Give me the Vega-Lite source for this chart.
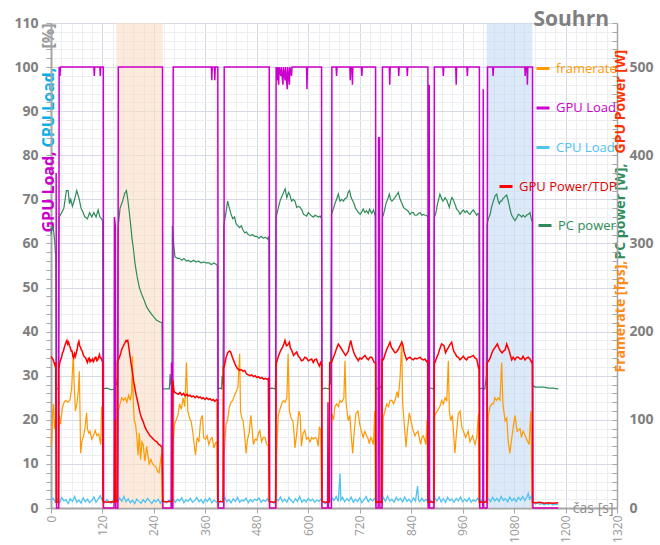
{
"$schema": "https://vega.github.io/schema/vega-lite/v6.json",
"width": 566, "height": 485,
"autosize": {"type": "none"},
"padding": {"left": 51, "top": 23, "right": 43, "bottom": 37},
"background": "white",
"title": {"text": "Souhrn", "anchor": "end", "frame": "group", "orient": "top", "offset": -14, "dx": -8, "font": "Open Sans", "fontSize": 21, "fontWeight": "bold", "color": "#7f7f7f"},
"config": {"view": {"stroke": null}, "axis": {"labelFont": "Open Sans", "titleFont": "Open Sans"}, "legend": {"labelFont": "Open Sans"}},
"datasets": {
"fps": [{"t":0,"v":72},{"t":2,"v":77},{"t":4,"v":110},{"t":6,"v":118},{"t":8,"v":90},{"t":10,"v":100},{"t":12,"v":85},{"t":13,"v":0},{"t":18,"v":0},
{"t":19,"v":105},{"t":22,"v":95},{"t":27,"v":115},{"t":31,"v":120},{"t":35,"v":122},{"t":39,"v":120},{"t":44,"v":122},{"t":48,"v":135},{"t":50,"v":155},{"t":52,"v":175},{"t":54,"v":140},{"t":57,"v":110},{"t":61,"v":120},{"t":64,"v":135},{"t":66,"v":155},{"t":68,"v":100},{"t":69,"v":62},{"t":72,"v":75},{"t":76,"v":82},{"t":79,"v":90},{"t":83,"v":108},{"t":85,"v":90},{"t":88,"v":85},{"t":91,"v":87},{"t":95,"v":78},{"t":99,"v":82},{"t":103,"v":88},{"t":107,"v":82},{"t":111,"v":84},{"t":116,"v":72},{"t":118,"v":115},{"t":120,"v":105},{"t":121,"v":0},
{"t":154,"v":0},{"t":156,"v":60},
{"t":157,"v":110},{"t":161,"v":118},{"t":165,"v":125},{"t":169,"v":122},{"t":173,"v":125},{"t":177,"v":120},{"t":181,"v":128},{"t":185,"v":122},{"t":188,"v":130},{"t":190,"v":172},{"t":192,"v":120},{"t":194,"v":100},{"t":197,"v":95},{"t":200,"v":82},{"t":203,"v":60},{"t":206,"v":85},{"t":209,"v":55},{"t":212,"v":75},{"t":215,"v":72},{"t":219,"v":53},{"t":223,"v":70},{"t":226,"v":60},{"t":229,"v":50},{"t":233,"v":55},{"t":237,"v":50},{"t":241,"v":48},{"t":245,"v":46},{"t":249,"v":41},{"t":252,"v":40},{"t":255,"v":52},{"t":258,"v":62},{"t":259.5,"v":0},
{"t":284,"v":0},
{"t":285,"v":75},{"t":288,"v":95},{"t":292,"v":100},{"t":296,"v":105},{"t":300,"v":118},{"t":304,"v":112},{"t":308,"v":125},{"t":312,"v":115},{"t":316,"v":165},{"t":319,"v":110},{"t":323,"v":102},{"t":327,"v":98},{"t":331,"v":85},{"t":334,"v":72},{"t":337,"v":60},{"t":341,"v":80},{"t":345,"v":75},{"t":349,"v":100},{"t":353,"v":105},{"t":356,"v":80},{"t":360,"v":78},{"t":364,"v":82},{"t":368,"v":72},{"t":372,"v":78},{"t":376,"v":80},{"t":380,"v":68},{"t":384,"v":74},{"t":387,"v":75},{"t":388.5,"v":0},
{"t":403,"v":0},
{"t":404,"v":60},{"t":408,"v":95},{"t":412,"v":100},{"t":416,"v":115},{"t":420,"v":120},{"t":424,"v":122},{"t":428,"v":128},{"t":432,"v":132},{"t":436,"v":137},{"t":440,"v":175},{"t":442,"v":110},{"t":445,"v":102},{"t":448,"v":99},{"t":451,"v":85},{"t":455,"v":62},{"t":458,"v":77},{"t":462,"v":85},{"t":466,"v":105},{"t":469,"v":90},{"t":472,"v":72},{"t":476,"v":78},{"t":480,"v":77},{"t":484,"v":85},{"t":487,"v":88},{"t":491,"v":75},{"t":495,"v":80},{"t":499,"v":80},{"t":503,"v":72},{"t":507,"v":70},{"t":509,"v":0},
{"t":525,"v":0},
{"t":526,"v":60},{"t":530,"v":105},{"t":534,"v":112},{"t":538,"v":118},{"t":542,"v":122},{"t":546,"v":120},{"t":550,"v":125},{"t":553,"v":175},{"t":556,"v":110},{"t":560,"v":102},{"t":564,"v":99},{"t":567,"v":84},{"t":569,"v":68},{"t":572,"v":80},{"t":575,"v":95},{"t":578,"v":110},{"t":581,"v":105},{"t":584,"v":70},{"t":588,"v":85},{"t":592,"v":88},{"t":596,"v":78},{"t":600,"v":80},{"t":604,"v":75},{"t":608,"v":80},{"t":612,"v":78},{"t":616,"v":80},{"t":620,"v":78},{"t":623,"v":70},{"t":626,"v":92},{"t":629,"v":88},{"t":631,"v":0},
{"t":654,"v":0},
{"t":655,"v":107},{"t":659,"v":100},{"t":662,"v":115},{"t":666,"v":118},{"t":670,"v":115},{"t":674,"v":122},{"t":678,"v":120},{"t":683,"v":125},{"t":685.6,"v":167},{"t":688,"v":120},{"t":693,"v":99},{"t":697,"v":105},{"t":701,"v":77},{"t":703.6,"v":62},{"t":707,"v":85},{"t":711,"v":107},{"t":716,"v":110},{"t":720,"v":95},{"t":724,"v":87},{"t":728,"v":80},{"t":732,"v":87},{"t":736,"v":82},{"t":740,"v":78},{"t":742,"v":73},{"t":746,"v":80},{"t":748,"v":78},{"t":752,"v":72},{"t":755,"v":110},{"t":757,"v":0},
{"t":773,"v":0},
{"t":775,"v":103},{"t":779,"v":110},{"t":783,"v":118},{"t":787,"v":115},{"t":791,"v":122},{"t":795,"v":122},{"t":799,"v":118},{"t":804,"v":125},{"t":807,"v":132},{"t":810,"v":125},{"t":814,"v":147},{"t":818,"v":190},{"t":820,"v":120},{"t":823,"v":100},{"t":828,"v":69},{"t":831,"v":87},{"t":835.6,"v":108},{"t":839,"v":100},{"t":845,"v":87},{"t":849,"v":82},{"t":852,"v":85},{"t":856,"v":87},{"t":862,"v":72},{"t":865,"v":80},{"t":868,"v":82},{"t":871,"v":78},{"t":874,"v":72},{"t":877,"v":100},{"t":879,"v":0},
{"t":894,"v":0},
{"t":895,"v":105},{"t":898,"v":108},{"t":901,"v":110},{"t":907,"v":115},{"t":911,"v":122},{"t":915,"v":118},{"t":919,"v":125},{"t":923,"v":121},{"t":926.6,"v":167},{"t":929,"v":110},{"t":932,"v":99},{"t":936,"v":105},{"t":940,"v":77},{"t":942,"v":62},{"t":946,"v":87},{"t":950,"v":107},{"t":954,"v":110},{"t":958,"v":92},{"t":962,"v":87},{"t":967,"v":80},{"t":973,"v":87},{"t":977,"v":75},{"t":983,"v":82},{"t":989,"v":72},{"t":993,"v":80},{"t":997,"v":107},{"t":999,"v":0},
{"t":1018,"v":0},
{"t":1020,"v":105},{"t":1024,"v":115},{"t":1028,"v":118},{"t":1032,"v":118},{"t":1035,"v":125},{"t":1039,"v":122},{"t":1043,"v":125},{"t":1047,"v":122},{"t":1051,"v":165},{"t":1054,"v":118},{"t":1059,"v":99},{"t":1063,"v":102},{"t":1066,"v":77},{"t":1070,"v":62},{"t":1074,"v":77},{"t":1078,"v":92},{"t":1082,"v":105},{"t":1087,"v":87},{"t":1094,"v":90},{"t":1097,"v":80},{"t":1101,"v":87},{"t":1106,"v":82},{"t":1111,"v":76},{"t":1115,"v":72},{"t":1119,"v":110},{"t":1122,"v":0},{"t":1183,"v":0}],
"pc": [{"t":0,"v":310},{"t":3,"v":320},{"t":6,"v":315},{"t":9,"v":300},{"t":11,"v":285},{"t":12,"v":135},{"t":17,"v":135},{"t":18,"v":300},
{"t":19,"v":330},{"t":25,"v":335},{"t":30,"v":340},{"t":33,"v":350},{"t":36,"v":360},{"t":40,"v":360},{"t":43,"v":345},{"t":46,"v":350},{"t":50,"v":342},{"t":55,"v":350},{"t":60,"v":360},{"t":63,"v":355},{"t":66,"v":350},{"t":70,"v":340},{"t":75,"v":335},{"t":79,"v":330},{"t":85,"v":328},{"t":90,"v":335},{"t":95,"v":330},{"t":100,"v":335},{"t":105,"v":330},{"t":110,"v":338},{"t":114,"v":330},{"t":118,"v":328},{"t":120.5,"v":325},{"t":121,"v":135},
{"t":130,"v":136},{"t":140,"v":134},{"t":148,"v":135},{"t":150,"v":150},{"t":152,"v":140},{"t":155,"v":140},{"t":156,"v":315},
{"t":161,"v":340},{"t":167,"v":348},{"t":172,"v":357},{"t":176,"v":360},{"t":179,"v":350},{"t":182,"v":338},{"t":185,"v":325},{"t":189,"v":305},{"t":192,"v":295},{"t":196,"v":277},{"t":201,"v":262},{"t":206,"v":250},{"t":211,"v":243},{"t":217,"v":236},{"t":223,"v":228},{"t":231,"v":222},{"t":239,"v":217},{"t":246,"v":213},{"t":254,"v":211},{"t":259,"v":210},{"t":260,"v":135},
{"t":270,"v":135},{"t":276,"v":135},{"t":278,"v":152},{"t":280,"v":140},{"t":282,"v":140},{"t":283,"v":320},
{"t":286,"v":300},{"t":289,"v":285},{"t":295,"v":283},{"t":300,"v":283},{"t":305,"v":281},{"t":310,"v":283},{"t":316,"v":280},{"t":320,"v":281},{"t":326,"v":279},{"t":332,"v":281},{"t":338,"v":279},{"t":344,"v":280},{"t":350,"v":278},{"t":356,"v":279},{"t":362,"v":278},{"t":368,"v":278},{"t":374,"v":276},{"t":380,"v":278},{"t":386,"v":276},{"t":388,"v":275},{"t":389,"v":135},
{"t":395,"v":136},{"t":398,"v":135},{"t":399,"v":150},{"t":401,"v":140},{"t":403,"v":320},
{"t":408,"v":335},{"t":412,"v":348},{"t":416,"v":340},{"t":420,"v":333},{"t":424,"v":328},{"t":428,"v":330},{"t":432,"v":322},{"t":436,"v":320},{"t":440,"v":318},{"t":444,"v":320},{"t":448,"v":315},{"t":452,"v":312},{"t":456,"v":313},{"t":460,"v":310},{"t":465,"v":309},{"t":470,"v":310},{"t":475,"v":308},{"t":480,"v":308},{"t":485,"v":306},{"t":490,"v":308},{"t":495,"v":306},{"t":500,"v":307},{"t":505,"v":305},{"t":508,"v":308},{"t":509.5,"v":135},
{"t":515,"v":136},{"t":523,"v":135},{"t":524,"v":150},{"t":525,"v":330},
{"t":530,"v":340},{"t":534,"v":348},{"t":540,"v":355},{"t":546,"v":362},{"t":550,"v":352},{"t":554,"v":358},{"t":557,"v":355},{"t":561,"v":348},{"t":565,"v":350},{"t":569,"v":348},{"t":573,"v":341},{"t":577,"v":342},{"t":581,"v":341},{"t":585,"v":338},{"t":589,"v":333},{"t":593,"v":332},{"t":596,"v":331},{"t":600,"v":335},{"t":604,"v":333},{"t":608,"v":331},{"t":612,"v":330},{"t":616,"v":332},{"t":620,"v":331},{"t":624,"v":330},{"t":628,"v":331},{"t":631,"v":328},{"t":632,"v":135},
{"t":640,"v":136},{"t":649,"v":135},{"t":650,"v":150},{"t":652,"v":140},{"t":654,"v":333},
{"t":659,"v":340},{"t":662,"v":345},{"t":666,"v":350},{"t":670,"v":356},{"t":674,"v":348},{"t":678,"v":350},{"t":682,"v":348},{"t":686,"v":351},{"t":690,"v":352},{"t":693,"v":358},{"t":696,"v":360},{"t":700,"v":352},{"t":704,"v":348},{"t":707,"v":345},{"t":710,"v":340},{"t":713,"v":338},{"t":717,"v":335},{"t":721,"v":333},{"t":725,"v":336},{"t":728,"v":339},{"t":732,"v":335},{"t":736,"v":337},{"t":740,"v":334},{"t":743,"v":339},{"t":748,"v":334},{"t":752,"v":338},{"t":754,"v":335},{"t":756,"v":330},{"t":757,"v":135},
{"t":762,"v":135},{"t":765,"v":140},{"t":770,"v":136},{"t":772,"v":135},{"t":773,"v":330},
{"t":775,"v":332},{"t":778,"v":338},{"t":781,"v":345},{"t":785,"v":350},{"t":789,"v":356},{"t":792,"v":350},{"t":795,"v":348},{"t":799,"v":350},{"t":802,"v":352},{"t":806,"v":355},{"t":810,"v":358},{"t":813,"v":352},{"t":816,"v":348},{"t":819,"v":345},{"t":822,"v":341},{"t":826,"v":339},{"t":830,"v":338},{"t":834,"v":336},{"t":837,"v":333},{"t":841,"v":335},{"t":845,"v":335},{"t":849,"v":332},{"t":853,"v":332},{"t":857,"v":334},{"t":861,"v":335},{"t":865,"v":332},{"t":868,"v":333},{"t":872,"v":332},{"t":876,"v":332},{"t":878.5,"v":330},{"t":879,"v":135},
{"t":885,"v":136},{"t":892,"v":135},{"t":893,"v":150},{"t":894,"v":330},
{"t":896,"v":332},{"t":899,"v":338},{"t":901,"v":344},{"t":904,"v":350},{"t":907,"v":356},{"t":910,"v":352},{"t":914,"v":348},{"t":917,"v":350},{"t":919,"v":352},{"t":923,"v":349},{"t":926,"v":345},{"t":929,"v":341},{"t":932,"v":348},{"t":935,"v":352},{"t":938,"v":350},{"t":941,"v":346},{"t":944,"v":342},{"t":946,"v":339},{"t":950,"v":337},{"t":954,"v":333},{"t":958,"v":336},{"t":962,"v":338},{"t":966,"v":335},{"t":970,"v":337},{"t":974,"v":334},{"t":977,"v":333},{"t":981,"v":336},{"t":985,"v":338},{"t":989,"v":335},{"t":993,"v":332},{"t":996,"v":334},{"t":998,"v":333},{"t":999,"v":135},
{"t":1005,"v":136},{"t":1012,"v":135},{"t":1015,"v":150},{"t":1017,"v":322},
{"t":1020,"v":328},{"t":1024,"v":333},{"t":1028,"v":342},{"t":1031.5,"v":348},{"t":1035.5,"v":354},{"t":1039.4,"v":356},{"t":1043,"v":348},{"t":1045.5,"v":345},{"t":1048,"v":348},{"t":1051,"v":348},{"t":1054,"v":351},{"t":1056.5,"v":352},{"t":1060,"v":354},{"t":1062.7,"v":355},{"t":1066,"v":349},{"t":1068.8,"v":343},{"t":1072,"v":336},{"t":1074.4,"v":332},{"t":1078,"v":329},{"t":1082,"v":326},{"t":1086,"v":329},{"t":1090,"v":333},{"t":1094,"v":332},{"t":1097.7,"v":330},{"t":1101,"v":332},{"t":1105.5,"v":330},{"t":1109,"v":332},{"t":1113,"v":333},{"t":1117,"v":335},{"t":1121,"v":326},{"t":1122.5,"v":325},{"t":1123,"v":139},
{"t":1130,"v":137},{"t":1140,"v":137},{"t":1150,"v":137},{"t":1160,"v":136},{"t":1170,"v":136},{"t":1183,"v":135}],
"gpw": [{"t":0,"v":172},{"t":3,"v":170},{"t":6,"v":167},{"t":9,"v":162},{"t":11,"v":165},{"t":12,"v":6.5},{"t":17,"v":6.5},{"t":18,"v":160},
{"t":19,"v":160},{"t":21,"v":166},{"t":24,"v":170},{"t":27,"v":176},{"t":29,"v":178},{"t":31,"v":182},{"t":33,"v":185},{"t":35,"v":188},{"t":37,"v":190},{"t":39,"v":186},{"t":41,"v":188},{"t":43,"v":184},{"t":45,"v":182},{"t":47,"v":178},{"t":49,"v":178},{"t":51,"v":172},{"t":53,"v":170},{"t":55,"v":175},{"t":57,"v":172},{"t":59,"v":176},{"t":61,"v":180},{"t":63,"v":186},{"t":65,"v":189},{"t":67,"v":184},{"t":69,"v":182},{"t":71,"v":179},{"t":73,"v":178},{"t":75,"v":174},{"t":77,"v":172},{"t":79,"v":171},{"t":81,"v":170},{"t":83,"v":167},{"t":85,"v":165},{"t":87,"v":169},{"t":89,"v":170},{"t":91,"v":166},{"t":93,"v":168},{"t":95,"v":167},{"t":97,"v":169},{"t":99,"v":166},{"t":101,"v":168},{"t":103,"v":171},{"t":105,"v":171},{"t":107,"v":167},{"t":109,"v":168},{"t":111,"v":171},{"t":113,"v":174},{"t":115,"v":170},{"t":117,"v":170},{"t":119,"v":167},{"t":120.5,"v":165},{"t":121,"v":7.5},
{"t":130,"v":6.5},{"t":140,"v":7},{"t":148,"v":6.5},{"t":149,"v":100},{"t":150,"v":7.5},{"t":154,"v":7.5},{"t":155,"v":165},
{"t":157,"v":168},{"t":159,"v":170},{"t":161,"v":173},{"t":163,"v":176},{"t":165,"v":180},{"t":167,"v":182},{"t":169,"v":184},{"t":171,"v":186},{"t":173,"v":188},{"t":175,"v":190},{"t":177,"v":189},{"t":179,"v":190},{"t":181,"v":184},{"t":183,"v":177},{"t":185,"v":170},{"t":187,"v":163},{"t":189,"v":157},{"t":191,"v":150},{"t":193,"v":143},{"t":195,"v":138},{"t":197,"v":132},{"t":199,"v":127},{"t":201,"v":123},{"t":204,"v":116},{"t":208,"v":107},{"t":212,"v":101},{"t":215,"v":98},{"t":219,"v":92},{"t":223,"v":88},{"t":227,"v":85},{"t":231,"v":82},{"t":235,"v":80},{"t":239,"v":78},{"t":243,"v":76},{"t":247,"v":75},{"t":251,"v":72},{"t":255,"v":71},{"t":259,"v":69},{"t":260.5,"v":7.5},
{"t":270,"v":7},{"t":277,"v":7.5},{"t":283,"v":7.5},{"t":284,"v":145},
{"t":287,"v":132},{"t":289,"v":131},{"t":293,"v":130},{"t":297,"v":129},{"t":301,"v":131},{"t":305,"v":128},{"t":309,"v":130},{"t":313,"v":127},{"t":317,"v":129},{"t":320,"v":127},{"t":324,"v":128},{"t":328,"v":126},{"t":332,"v":127},{"t":336,"v":125},{"t":340,"v":127},{"t":344,"v":125},{"t":348,"v":126},{"t":352,"v":124},{"t":355,"v":125},{"t":359,"v":123},{"t":363,"v":125},{"t":367,"v":123},{"t":371,"v":124},{"t":375,"v":122},{"t":378.5,"v":123},{"t":382,"v":121},{"t":386,"v":123},{"t":388,"v":122},{"t":389,"v":7.5},
{"t":395,"v":7},{"t":401,"v":7.5},{"t":402,"v":160},
{"t":404,"v":160},{"t":408,"v":170},{"t":412,"v":176},{"t":416,"v":178},{"t":419,"v":177},{"t":423,"v":171},{"t":427,"v":166},{"t":431,"v":161},{"t":435,"v":158},{"t":440,"v":156},{"t":444,"v":157},{"t":448,"v":155},{"t":452,"v":156},{"t":456,"v":152},{"t":460,"v":151},{"t":464,"v":150},{"t":468,"v":151},{"t":472,"v":149},{"t":476,"v":150},{"t":480,"v":148},{"t":484,"v":149},{"t":488,"v":147},{"t":492,"v":148},{"t":496,"v":146},{"t":500,"v":147},{"t":504,"v":146},{"t":507,"v":147},{"t":509,"v":7.5},
{"t":517,"v":6.5},{"t":524,"v":7},{"t":525,"v":165},
{"t":526,"v":165},{"t":529,"v":170},{"t":532.5,"v":175},{"t":536,"v":179},{"t":540,"v":182},{"t":543,"v":186},{"t":545.7,"v":190},{"t":549,"v":184},{"t":552,"v":185},{"t":556,"v":188},{"t":558,"v":182},{"t":561,"v":179},{"t":566,"v":173},{"t":569,"v":175},{"t":573,"v":177},{"t":577,"v":172},{"t":580.7,"v":170},{"t":584,"v":167},{"t":588.4,"v":168},{"t":592,"v":171},{"t":596,"v":170},{"t":600,"v":167},{"t":604,"v":168},{"t":608,"v":169},{"t":611.7,"v":165},{"t":615,"v":168},{"t":619,"v":169},{"t":622,"v":165},{"t":625.8,"v":161},{"t":629,"v":165},{"t":631,"v":162},{"t":632,"v":7.5},
{"t":640,"v":6.5},{"t":649,"v":7},{"t":650,"v":165},
{"t":654,"v":165},{"t":658,"v":170},{"t":662,"v":175},{"t":666,"v":181},{"t":670,"v":186},{"t":675.6,"v":182},{"t":681.7,"v":177},{"t":687,"v":173},{"t":690,"v":175},{"t":693.4,"v":178},{"t":696,"v":184},{"t":699,"v":190},{"t":702.7,"v":182},{"t":706,"v":177},{"t":709,"v":173},{"t":713,"v":170},{"t":716.7,"v":167},{"t":720,"v":170},{"t":724.6,"v":169},{"t":728,"v":171},{"t":732.3,"v":173},{"t":736,"v":170},{"t":740,"v":168},{"t":744,"v":171},{"t":748,"v":171},{"t":751,"v":168},{"t":754,"v":165},{"t":757,"v":164},{"t":757.5,"v":6.5},
{"t":765,"v":7},{"t":771,"v":6.5},{"t":772,"v":168},
{"t":775,"v":168},{"t":779,"v":174},{"t":783,"v":180},{"t":787,"v":184},{"t":790.6,"v":188},{"t":794,"v":182},{"t":797,"v":180},{"t":802.3,"v":176},{"t":806,"v":177},{"t":810,"v":180},{"t":814,"v":184},{"t":818,"v":188},{"t":821,"v":184},{"t":823.3,"v":177},{"t":826,"v":173},{"t":829.5,"v":168},{"t":833,"v":170},{"t":837.2,"v":171},{"t":841,"v":169},{"t":845,"v":168},{"t":849,"v":170},{"t":853,"v":169},{"t":857,"v":170},{"t":860.6,"v":171},{"t":864,"v":169},{"t":868.3,"v":168},{"t":872,"v":169},{"t":876,"v":166},{"t":878.5,"v":167},{"t":879,"v":6.5},
{"t":886,"v":7},{"t":893,"v":6.5},{"t":894,"v":165},
{"t":895.6,"v":165},{"t":899,"v":170},{"t":903.3,"v":175},{"t":907,"v":181},{"t":911,"v":186},{"t":916.5,"v":184},{"t":920,"v":176},{"t":923,"v":179},{"t":926.6,"v":182},{"t":930,"v":185},{"t":934.5,"v":188},{"t":937,"v":182},{"t":940,"v":177},{"t":943,"v":175},{"t":946,"v":172},{"t":950,"v":171},{"t":953.8,"v":168},{"t":958,"v":170},{"t":961.6,"v":172},{"t":966,"v":169},{"t":969.4,"v":168},{"t":973,"v":171},{"t":977,"v":171},{"t":981,"v":172},{"t":985,"v":173},{"t":989,"v":170},{"t":992.8,"v":169},{"t":996.6,"v":160},{"t":998.5,"v":162},{"t":999,"v":6.5},
{"t":1005,"v":7},{"t":1016,"v":6.5},{"t":1017,"v":165},
{"t":1020,"v":166},{"t":1024,"v":170},{"t":1027.7,"v":175},{"t":1031,"v":179},{"t":1035.5,"v":182},{"t":1041,"v":186},{"t":1044,"v":182},{"t":1047,"v":179},{"t":1050,"v":177},{"t":1052.5,"v":176},{"t":1055,"v":178},{"t":1058.8,"v":179},{"t":1062.7,"v":186},{"t":1065,"v":183},{"t":1068,"v":179},{"t":1071,"v":174},{"t":1074.4,"v":168},{"t":1078,"v":171},{"t":1082,"v":168},{"t":1086,"v":171},{"t":1090,"v":171},{"t":1094,"v":169},{"t":1097.7,"v":169},{"t":1101,"v":172},{"t":1105.5,"v":168},{"t":1109,"v":170},{"t":1113,"v":171},{"t":1117,"v":169},{"t":1121,"v":165},{"t":1122.5,"v":167},{"t":1123,"v":6.5},
{"t":1130,"v":6},{"t":1140,"v":6.5},{"t":1150,"v":5.5},{"t":1160,"v":6},{"t":1170,"v":5.5},{"t":1183,"v":6}],
"gload": [{"t":12,"v":76},{"t":13,"v":0},{"t":18,"v":0},{"t":19,"v":100},{"t":21,"v":98},{"t":22,"v":100},{"t":100,"v":100},{"t":101,"v":98},{"t":102,"v":100},{"t":114,"v":100},{"t":115,"v":98},{"t":116,"v":100},{"t":122,"v":100},{"t":122.5,"v":0},{"t":147,"v":0},{"t":148,"v":66},{"t":150,"v":64},{"t":151,"v":0},{"t":156,"v":0},{"t":157,"v":100},{"t":260,"v":100},{"t":261,"v":0},{"t":280,"v":0},{"t":281,"v":33},{"t":282,"v":0},{"t":284,"v":0},{"t":285,"v":100},{"t":374,"v":100},{"t":375,"v":97},{"t":376,"v":100},{"t":381,"v":100},{"t":382,"v":97},{"t":383,"v":100},{"t":389,"v":100},{"t":390,"v":0},{"t":403,"v":0},{"t":404,"v":100},{"t":509,"v":100},{"t":510,"v":0},{"t":524,"v":0},{"t":525,"v":100},{"t":527,"v":97},{"t":528,"v":100},{"t":531,"v":96},{"t":532,"v":100},{"t":536,"v":98},{"t":537,"v":100},{"t":541,"v":96},{"t":542,"v":100},{"t":546,"v":97},{"t":547,"v":100},{"t":551,"v":95},{"t":552,"v":100},{"t":556,"v":96},{"t":557,"v":100},{"t":561,"v":98},{"t":562,"v":100},{"t":596,"v":100},{"t":597,"v":95},{"t":598,"v":100},{"t":631,"v":100},{"t":632,"v":0},{"t":645,"v":0},{"t":646,"v":24},{"t":647,"v":0},{"t":654,"v":0},{"t":655,"v":100},{"t":665,"v":100},{"t":666,"v":98},{"t":667,"v":100},{"t":697,"v":100},{"t":698,"v":97},{"t":699,"v":100},{"t":702,"v":100},{"t":703,"v":96},{"t":704,"v":100},{"t":724,"v":100},{"t":725,"v":98},{"t":726,"v":100},{"t":757,"v":100},{"t":758,"v":0},{"t":763,"v":0},{"t":764,"v":84},{"t":766,"v":84},{"t":767,"v":0},{"t":772,"v":0},{"t":773,"v":100},{"t":789,"v":100},{"t":790,"v":96},{"t":791,"v":100},{"t":810,"v":100},{"t":811,"v":98},{"t":812,"v":100},{"t":830,"v":100},{"t":831,"v":98},{"t":832,"v":100},{"t":879,"v":100},{"t":880,"v":0},{"t":881,"v":0},{"t":882,"v":96},{"t":883,"v":0},{"t":893,"v":0},{"t":894,"v":100},{"t":914,"v":100},{"t":915,"v":98},{"t":916,"v":100},{"t":944,"v":100},{"t":945,"v":96},{"t":946,"v":100},{"t":970,"v":100},{"t":971,"v":98},{"t":972,"v":100},{"t":999,"v":100},{"t":1000,"v":0},{"t":1007,"v":0},{"t":1008,"v":95},{"t":1009,"v":0},{"t":1017,"v":0},{"t":1018,"v":100},{"t":1030,"v":100},{"t":1031,"v":98},{"t":1032,"v":100},{"t":1105,"v":100},{"t":1106,"v":98},{"t":1107,"v":100},{"t":1110,"v":100},{"t":1111,"v":96},{"t":1112,"v":100},{"t":1123,"v":100},{"t":1124,"v":0},{"t":1183,"v":0}],
"cpu": [{"t":0,"v":1.8},{"t":5,"v":2.2},{"t":10,"v":1.4},{"t":15,"v":2.0},{"t":20,"v":1.2},{"t":25,"v":2.4},{"t":30,"v":1.6},{"t":35,"v":1.9},{"t":40,"v":1.0},{"t":45,"v":2.1},{"t":50,"v":1.5},{"t":55,"v":2.6},{"t":60,"v":1.3},{"t":65,"v":1.8},{"t":70,"v":1.1},{"t":75,"v":2.3},{"t":80,"v":1.4},{"t":85,"v":2.0},{"t":90,"v":1.2},{"t":95,"v":1.7},{"t":100,"v":2.5},{"t":105,"v":1.3},{"t":110,"v":2.0},{"t":115,"v":2.8},{"t":120,"v":1.6},{"t":125,"v":1.2},{"t":130,"v":1.9},{"t":135,"v":1.4},{"t":140,"v":1.1},{"t":145,"v":1.7},{"t":150,"v":2.2},{"t":155,"v":1.3},{"t":160,"v":2.3},{"t":165,"v":1.5},{"t":170,"v":2.6},{"t":175,"v":1.4},{"t":180,"v":2.1},{"t":185,"v":1.2},{"t":190,"v":1.8},{"t":195,"v":1.0},{"t":200,"v":2.0},{"t":205,"v":1.5},{"t":210,"v":1.1},{"t":215,"v":1.9},{"t":220,"v":1.3},{"t":225,"v":2.2},{"t":230,"v":1.6},{"t":235,"v":1.0},{"t":240,"v":1.8},{"t":245,"v":1.4},{"t":250,"v":2.0},{"t":255,"v":1.1},{"t":260,"v":1.9},{"t":265,"v":1.4},{"t":270,"v":1.2},{"t":275,"v":1.8},{"t":280,"v":1.5},{"t":285,"v":2.1},{"t":290,"v":1.3},{"t":295,"v":2.0},{"t":300,"v":1.6},{"t":305,"v":2.3},{"t":310,"v":1.2},{"t":315,"v":1.9},{"t":320,"v":1.5},{"t":325,"v":2.2},{"t":330,"v":1.3},{"t":335,"v":1.7},{"t":340,"v":2.4},{"t":345,"v":1.4},{"t":350,"v":1.9},{"t":355,"v":1.1},{"t":360,"v":2.0},{"t":365,"v":1.5},{"t":370,"v":2.3},{"t":375,"v":1.2},{"t":380,"v":1.8},{"t":385,"v":1.4},{"t":390,"v":1.1},{"t":395,"v":1.6},{"t":400,"v":1.3},{"t":405,"v":2.5},{"t":410,"v":1.4},{"t":415,"v":1.9},{"t":420,"v":1.2},{"t":425,"v":2.1},{"t":430,"v":1.5},{"t":435,"v":2.4},{"t":440,"v":1.3},{"t":445,"v":1.8},{"t":450,"v":1.6},{"t":455,"v":2.2},{"t":460,"v":1.2},{"t":465,"v":1.9},{"t":470,"v":1.4},{"t":475,"v":2.0},{"t":480,"v":1.7},{"t":485,"v":2.3},{"t":490,"v":1.3},{"t":495,"v":1.8},{"t":500,"v":1.5},{"t":505,"v":2.1},{"t":510,"v":1.2},{"t":515,"v":1.5},{"t":520,"v":1.1},{"t":525,"v":2.2},{"t":530,"v":1.6},{"t":535,"v":2.5},{"t":540,"v":1.4},{"t":545,"v":2.0},{"t":550,"v":1.3},{"t":555,"v":2.4},{"t":560,"v":1.7},{"t":565,"v":1.2},{"t":570,"v":2.1},{"t":575,"v":1.5},{"t":580,"v":2.6},{"t":585,"v":1.3},{"t":590,"v":1.9},{"t":595,"v":1.4},{"t":600,"v":2.2},{"t":605,"v":1.6},{"t":610,"v":2.0},{"t":615,"v":1.3},{"t":620,"v":1.8},{"t":625,"v":1.5},{"t":630,"v":2.1},{"t":635,"v":1.3},{"t":640,"v":1.0},{"t":645,"v":1.6},{"t":650,"v":1.2},{"t":655,"v":2.3},{"t":660,"v":1.7},{"t":665,"v":2.6},{"t":670,"v":1.5},{"t":674,"v":7.8},{"t":676,"v":1.8},{"t":680,"v":2.4},{"t":685,"v":1.4},{"t":690,"v":2.1},{"t":695,"v":1.6},{"t":700,"v":2.5},{"t":705,"v":1.3},{"t":710,"v":2.0},{"t":715,"v":1.5},{"t":720,"v":2.3},{"t":725,"v":1.2},{"t":730,"v":1.9},{"t":735,"v":2.6},{"t":740,"v":1.4},{"t":745,"v":2.1},{"t":750,"v":1.6},{"t":755,"v":2.2},{"t":760,"v":1.2},{"t":765,"v":1.7},{"t":770,"v":1.1},{"t":775,"v":2.4},{"t":780,"v":1.5},{"t":785,"v":2.7},{"t":790,"v":1.6},{"t":795,"v":2.0},{"t":800,"v":1.3},{"t":805,"v":2.4},{"t":810,"v":1.7},{"t":815,"v":2.2},{"t":820,"v":1.4},{"t":825,"v":2.5},{"t":830,"v":1.5},{"t":835,"v":2.0},{"t":840,"v":1.3},{"t":845,"v":2.3},{"t":850,"v":1.6},{"t":855,"v":5.0},{"t":857,"v":1.9},{"t":860,"v":1.4},{"t":865,"v":2.2},{"t":870,"v":1.5},{"t":875,"v":2.0},{"t":880,"v":1.3},{"t":885,"v":1.8},{"t":890,"v":1.2},{"t":895,"v":2.3},{"t":900,"v":1.6},{"t":905,"v":2.5},{"t":910,"v":1.4},{"t":915,"v":2.1},{"t":920,"v":1.3},{"t":925,"v":2.4},{"t":930,"v":1.7},{"t":935,"v":2.0},{"t":940,"v":1.3},{"t":945,"v":2.2},{"t":950,"v":1.6},{"t":955,"v":2.5},{"t":960,"v":1.4},{"t":965,"v":2.0},{"t":970,"v":1.5},{"t":975,"v":2.3},{"t":980,"v":1.3},{"t":985,"v":1.9},{"t":990,"v":1.5},{"t":995,"v":2.2},{"t":1000,"v":1.4},{"t":1005,"v":1.9},{"t":1010,"v":1.2},{"t":1015,"v":1.7},{"t":1020,"v":2.1},{"t":1025,"v":1.4},{"t":1030,"v":2.4},{"t":1035,"v":1.6},{"t":1040,"v":2.2},{"t":1045,"v":1.5},{"t":1050,"v":2.6},{"t":1055,"v":1.7},{"t":1060,"v":2.1},{"t":1065,"v":1.4},{"t":1070,"v":2.5},{"t":1075,"v":1.6},{"t":1080,"v":2.2},{"t":1085,"v":1.5},{"t":1090,"v":2.4},{"t":1095,"v":1.8},{"t":1100,"v":2.6},{"t":1105,"v":1.7},{"t":1110,"v":2.5},{"t":1113,"v":3.3},{"t":1116,"v":2.0},{"t":1120,"v":2.6},{"t":1124,"v":1.4},{"t":1130,"v":0.9},{"t":1135,"v":1.2},{"t":1140,"v":0.8},{"t":1145,"v":1.1},{"t":1150,"v":0.7},{"t":1155,"v":1.0},{"t":1160,"v":0.8},{"t":1165,"v":1.1},{"t":1170,"v":0.7},{"t":1175,"v":0.9},{"t":1180,"v":0.8},{"t":1183,"v":0.9}]
},
"encoding": {
  "x": {"field": "t", "type": "quantitative", "scale": {"domain": [0, 1320], "nice": false, "zero": false},
    "axis": {"values": [0,24,48,72,96,120,144,168,192,216,240,264,288,312,336,360,384,408,432,456,480,504,528,552,576,600,624,648,672,696,720,744,768,792,816,840,864,888,912,936,960,984,1008,1032,1056,1080,1104,1128,1152,1176,1200,1224,1248,1272,1296,1320],
      "format": "d",
      "labelExpr": "datum.value % 120 === 0 ? datum.label : ''", "labelOverlap": false, "labelBound": false,
      "labelAngle": 270, "labelFontSize": 12, "labelColor": "#999999", "labelPadding": 2,
      "grid": true, "gridColor": {"condition": {"test": "datum.value % 120 === 0", "value": "#d6dbe3"}, "value": "#eceef2"},
      "tickOpacity": {"condition": {"test": "datum.value % 120 === 0", "value": 1}, "value": 0},
      "tickSize": 5, "tickColor": "#a6a6a6", "domainColor": "#a6a6a6", "domainWidth": 2,
      "title": "čas [s]", "titleX": 562, "titleY": 0, "titleAlign": "right", "titleBaseline": "middle", "titleAngle": 0,
      "titleColor": "#8c8c8c", "titleFontSize": 14, "titleFontWeight": "normal"}}
},
"layer": [
  {"layer": [
     {"data": {"values": [{"t": 152, "t2": 260.5}]}, "mark": {"type": "rect", "color": "#fadec5", "opacity": 0.6}, "encoding": {"x2": {"field": "t2"}}},
     {"data": {"values": [{"t": 1016, "t2": 1122.5}]}, "mark": {"type": "rect", "color": "#c5daf3", "opacity": 0.6}, "encoding": {"x2": {"field": "t2"}}}
   ],
   "encoding": {"y": {"datum": 0, "type": "quantitative", "scale": {"domain": [0, 110], "nice": false},
       "axis": {"orient": "left", "labels": false, "ticks": false, "domain": false, "grid": false,
         "title": "[%]", "titleColor": "#999999", "titleFontSize": 16, "titleFontWeight": "bold", "titleAngle": 270, "titleAlign": "left", "titleBaseline": "middle", "titleX": -3, "titleY": 25}},
     "y2": {"datum": 110}}},
  {"data": {"name": "pc"}, "mark": {"type": "line", "strokeWidth": 1.2, "color": "#2e8b57"},
   "encoding": {"y": {"field": "v", "type": "quantitative", "scale": {"domain": [0, 550], "nice": false},
       "axis": {"orient": "right", "labels": false, "ticks": false, "domain": false, "grid": false,
         "title": " PC power [W],", "titleColor": "#2e8b57", "titleFontSize": 14, "titleFontWeight": "bold", "titleAngle": 270, "titleAlign": "left", "titleBaseline": "middle", "titleX": 3, "titleY": 236}},
     "strokeDash": {"datum": "PC power", "scale": {"domain": ["PC power"], "range": [[1, 0]]},
       "legend": {"title": null, "orient": "none", "legendX": 486, "legendY": 194.5, "padding": 0, "symbolType": "stroke", "symbolSize": 169, "symbolStrokeWidth": 3, "symbolStrokeColor": "#2e8b57", "labelColor": "#2e8b57", "labelFontSize": 13, "labelOffset": 5}}}},
  {"data": {"name": "fps"}, "mark": {"type": "line", "strokeWidth": 1.2},
   "encoding": {"y": {"field": "v", "type": "quantitative", "scale": {"domain": [0, 550], "nice": false},
       "axis": {"orient": "right", "values": [0,10,20,30,40,50,60,70,80,90,100,110,120,130,140,150,160,170,180,190,200,210,220,230,240,250,260,270,280,290,300,310,320,330,340,350,360,370,380,390,400,410,420,430,440,450,460,470,480,490,500,510,520,530,540,550],
         "labelExpr": "datum.value % 100 === 0 ? datum.label : ''", "labelOverlap": false, "labelBound": false,
         "labelFontSize": 14, "labelFontWeight": "bold", "labelColor": "#808080", "labelPadding": 17,
         "ticks": true, "tickSize": -5, "tickColor": "#a6a6a6", "domain": true, "domainColor": "#a6a6a6", "domainWidth": 1.5, "grid": false,
         "title": "Framerate [fps],", "titleColor": "#ff8c1a", "titleFontSize": 14, "titleFontWeight": "bold", "titleAngle": 270, "titleAlign": "left", "titleBaseline": "middle", "titleX": 3, "titleY": 349}},
     "color": {"datum": "framerate", "scale": {"domain": ["framerate", "GPU Load", "CPU Load"], "range": ["#ff9900", "#cc00cc", "#4fc3f0"]},
       "legend": {"title": null, "orient": "none", "legendX": 484, "legendY": 37.5, "padding": 0, "rowPadding": 24.5, "symbolType": "stroke", "symbolSize": 169, "symbolStrokeWidth": 3, "labelFontSize": 13, "labelOffset": 5,
         "encode": {"labels": {"update": {"fill": {"scale": "color", "field": "value"}}}}}}}},
  {"data": {"name": "cpu"}, "mark": {"type": "line", "strokeWidth": 1.3},
   "encoding": {"y": {"field": "v", "type": "quantitative", "scale": {"domain": [0, 110], "nice": false},
       "axis": {"orient": "left", "labels": false, "ticks": false, "domain": false, "grid": false,
         "title": "CPU Load,", "titleColor": "#00b0f0", "titleFontSize": 16, "titleFontWeight": "bold", "titleAngle": 270, "titleAlign": "left", "titleBaseline": "middle", "titleX": -3, "titleY": 124}},
     "color": {"datum": "CPU Load", "scale": {"domain": ["framerate", "GPU Load", "CPU Load"], "range": ["#ff9900", "#cc00cc", "#4fc3f0"]}}}},
  {"data": {"name": "gload"}, "mark": {"type": "line", "strokeWidth": 1.5},
   "encoding": {"y": {"field": "v", "type": "quantitative", "scale": {"domain": [0, 110], "nice": false},
       "axis": {"orient": "left", "values": [0,2,4,6,8,10,12,14,16,18,20,22,24,26,28,30,32,34,36,38,40,42,44,46,48,50,52,54,56,58,60,62,64,66,68,70,72,74,76,78,80,82,84,86,88,90,92,94,96,98,100,102,104,106,108,110],
         "labelExpr": "datum.value % 10 === 0 ? datum.label : ''", "labelOverlap": false, "labelBound": false,
         "labelFontSize": 14, "labelFontWeight": "bold", "labelColor": "#808080", "labelPadding": 8,
         "grid": true, "gridColor": {"condition": {"test": "datum.value % 10 === 0", "value": "#d6dbe3"}, "value": "#eceef2"},
         "ticks": true, "tickSize": 5, "tickColor": "#a6a6a6", "domain": true, "domainColor": "#a6a6a6", "domainWidth": 2,
         "title": "GPU Load,", "titleColor": "#cc00cc", "titleFontSize": 16, "titleFontWeight": "bold", "titleAngle": 270, "titleAlign": "left", "titleBaseline": "middle", "titleX": -3, "titleY": 209}},
     "color": {"datum": "GPU Load", "scale": {"domain": ["framerate", "GPU Load", "CPU Load"], "range": ["#ff9900", "#cc00cc", "#4fc3f0"]}}}},
  {"data": {"name": "gpw"}, "mark": {"type": "line", "strokeWidth": 1.5},
   "encoding": {"y": {"field": "v", "type": "quantitative", "scale": {"domain": [0, 550], "nice": false},
       "axis": {"orient": "right", "labels": false, "ticks": false, "domain": false, "grid": false,
         "title": " GPU Power [W]", "titleColor": "#ff3300", "titleFontSize": 14, "titleFontWeight": "bold", "titleAngle": 270, "titleAlign": "left", "titleBaseline": "middle", "titleX": 3, "titleY": 130}},
     "stroke": {"datum": "GPU Power/TDP", "scale": {"domain": ["GPU Power/TDP"], "range": ["#ff0000"]},
       "legend": {"title": null, "orient": "none", "legendX": 447, "legendY": 155.5, "padding": 0, "symbolType": "stroke", "symbolSize": 169, "symbolStrokeWidth": 3, "labelColor": "#e00000", "labelFontSize": 13, "labelOffset": 5}}}}
],
"resolve": {"scale": {"y": "independent"}, "axis": {"y": "independent"}}
}
